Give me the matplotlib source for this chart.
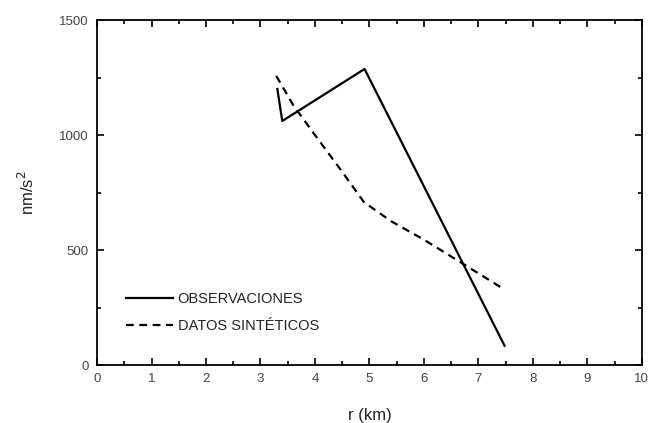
import matplotlib
matplotlib.use('Agg')
from matplotlib import pyplot as plt
from matplotlib.ticker import MultipleLocator

plt.rcParams['font.family'] = ['Liberation Sans', 'DejaVu Sans']

# observed values
obs_r = [3.31, 3.40, 4.91, 7.48]
obs_a = [1200, 1061, 1287, 84]

# synthetic values
syn_r = [3.29, 3.6, 4.0, 4.5, 4.9, 5.4, 6.0, 6.65, 7.42]
syn_a = [1257, 1130, 1000, 840, 708, 625, 545, 450, 337]

fig = plt.figure(figsize=(6.49, 4.23), dpi=100)
ax = fig.add_axes([0.1495, 0.137, 0.8395, 0.8157])

ax.plot(obs_r, obs_a, color='black', lw=1.6, label='OBSERVACIONES')
ax.plot(syn_r, syn_a, color='black', lw=1.6, ls=(0, (3.5, 2.5)), label='DATOS SINTÉTICOS')

ax.set_xlim(0, 10)
ax.set_ylim(0, 1500)
ax.xaxis.set_major_locator(MultipleLocator(1))
ax.xaxis.set_minor_locator(MultipleLocator(0.5))
ax.yaxis.set_major_locator(MultipleLocator(500))
ax.yaxis.set_minor_locator(MultipleLocator(250))
ax.tick_params(which='both', direction='in', top=True, right=True,
               labelsize=9.5, labelcolor='#444444', width=1.2)
ax.tick_params(which='major', length=5, pad=6)
ax.tick_params(which='minor', length=3)
for sp in ax.spines.values():
    sp.set_linewidth(1.3)

ax.set_xlabel('r (km)', fontsize=12, labelpad=16, color='#222222')
ax.set_ylabel('nm/s$^2$', fontsize=12, labelpad=16, color='#222222')

ax.legend(loc='lower left', bbox_to_anchor=(0.03, 0.055), frameon=False,
          handlelength=3.2, handletextpad=0.3, fontsize=10.5, labelspacing=0.9,
          labelcolor='#222222')

fig.savefig('out.png', dpi=100)
